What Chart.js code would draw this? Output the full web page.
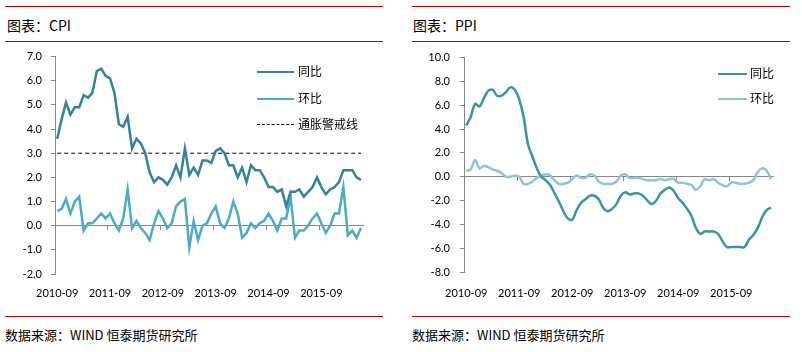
<!DOCTYPE html>
<html>
<head>
<meta charset="utf-8">
<script src="https://cdn.jsdelivr.net/npm/chart.js@4/dist/chart.umd.min.js"></script>
<style>
  body { margin: 0; width: 802px; height: 352px; background: #fff; position: relative; overflow: hidden;
         font-family: "Noto Sans CJK SC", sans-serif; color: #000; }
  .rule { position: absolute; height: 1px; background: #c00000; }
  .title { position: absolute; font-size: 14px; line-height: 16px; white-space: nowrap; }
  .src { position: absolute; font-size: 13px; line-height: 15px; white-space: nowrap; }
  .box { position: absolute; }
  .lg { position: absolute; font-size: 12px; line-height: 14px; white-space: nowrap; }
  .lg span { position: absolute; display: block; white-space: nowrap; }
</style>
</head>
<body>
<div class="rule" style="left:5px;top:6px;width:378px"></div>
<div class="rule" style="left:5px;top:41px;width:378px"></div>
<div class="rule" style="left:5px;top:316px;width:378px"></div>
<div class="rule" style="left:412px;top:6px;width:378px"></div>
<div class="rule" style="left:412px;top:41px;width:378px"></div>
<div class="rule" style="left:412px;top:316px;width:378px"></div>

<div class="title" style="left:7px;top:17px">图表：CPI</div>
<div class="title" style="left:413px;top:17px">图表：PPI</div>
<div class="src" style="left:5px;top:327px">数据来源：WIND 恒泰期货研究所</div>
<div class="src" style="left:412px;top:327px">数据来源：WIND 恒泰期货研究所</div>

<div class="box" style="left:0;top:41px;width:366px;height:265px"><canvas id="cpiChart"></canvas></div>
<div class="box" style="left:400px;top:41px;width:378px;height:265px"><canvas id="ppiChart"></canvas></div>

<!-- legends -->
<div class="lg" style="left:257px;top:64px">
  <span style="left:0;top:7px;width:37px;height:0;border-top:2.5px solid #31849b"></span>
  <span style="left:41px;top:0">同比</span>
</div>
<div class="lg" style="left:257px;top:91px">
  <span style="left:0;top:7px;width:37px;height:0;border-top:2.5px solid #4bacc6"></span>
  <span style="left:41px;top:0">环比</span>
</div>
<div class="lg" style="left:257px;top:117px">
  <span style="left:0;top:7px;width:37px;height:0;border-top:1px dashed #000"></span>
  <span style="left:41px;top:0">通胀警戒线</span>
</div>
<div class="lg" style="left:718px;top:66px">
  <span style="left:0;top:7px;width:29px;height:0;border-top:2.5px solid #3a93ab"></span>
  <span style="left:32px;top:0">同比</span>
</div>
<div class="lg" style="left:718px;top:91px">
  <span style="left:0;top:7px;width:29px;height:0;border-top:2.5px solid #8ec4d7"></span>
  <span style="left:32px;top:0">环比</span>
</div>

<script>
// months 2010-09 .. 2016-06
var months = [];
for (var y = 2010, m = 9; months.length < 70; m++) {
  if (m > 12) { m = 1; y++; }
  months.push(y + '-' + (m < 10 ? '0' + m : m));
}
var tickLabels = ['2010-09', '2011-09', '2012-09', '2013-09', '2014-09', '2015-09'];

var cpiYoy = [3.6,4.4,5.1,4.6,
  4.9,4.9,5.4,5.3,5.5,6.4,6.5,6.2,6.1,5.5,4.2,4.1,
  4.5,3.2,3.6,3.4,3.0,2.2,1.8,2.0,1.9,1.7,2.0,2.5,
  2.0,3.2,2.1,2.4,2.1,2.7,2.7,2.6,3.1,3.2,3.0,2.5,
  2.5,2.0,2.4,1.8,2.5,2.3,2.3,2.0,1.6,1.6,1.4,1.5,
  0.8,1.4,1.4,1.5,1.2,1.4,1.6,2.0,1.6,1.3,1.5,1.6,
  1.8,2.3,2.3,2.3,2.0,1.9];
var cpiMom = [0.6,0.7,1.1,0.5,
  1.0,1.2,-0.2,0.1,0.1,0.3,0.5,0.3,0.5,0.1,-0.2,0.3,
  1.5,-0.1,0.2,-0.1,-0.3,-0.6,0.1,0.6,0.3,-0.1,0.1,0.8,
  1.0,1.1,-0.9,0.2,-0.6,0.0,0.1,0.5,0.8,0.1,-0.1,0.3,
  1.0,0.5,-0.5,-0.3,0.1,-0.1,0.1,0.2,0.5,0.2,-0.2,0.3,
  0.3,1.2,-0.5,-0.2,-0.2,0.0,0.3,0.5,0.1,-0.3,0.0,0.5,
  0.5,1.6,-0.4,-0.2,-0.5,-0.1];
var cpiAlert = 3.0; // 通胀警戒线

var ppiYoy = [4.3,5.0,6.1,5.9,
  6.6,7.2,7.3,6.8,6.8,7.1,7.5,7.3,6.5,5.0,2.7,1.7,
  0.7,0.0,-0.3,-0.7,-1.4,-2.1,-2.9,-3.5,-3.6,-2.8,-2.2,-1.9,
  -1.6,-1.6,-1.9,-2.6,-2.9,-2.7,-2.3,-1.6,-1.3,-1.5,-1.4,-1.4,
  -1.6,-2.0,-2.3,-2.0,-1.4,-1.1,-0.9,-1.2,-1.8,-2.2,-2.7,-3.3,
  -4.3,-4.8,-4.6,-4.6,-4.6,-4.8,-5.4,-5.9,-5.9,-5.9,-5.9,-5.9,
  -5.3,-4.9,-4.3,-3.4,-2.8,-2.6];
var ppiMom = [0.5,0.6,1.4,0.7,
  0.9,0.8,0.6,0.5,0.3,0.0,0.0,0.1,0.0,-0.6,-0.6,-0.4,
  -0.1,0.1,0.2,0.1,-0.3,-0.6,-0.6,-0.5,-0.2,0.1,-0.1,-0.1,
  0.2,0.1,-0.4,-0.6,-0.6,-0.6,-0.4,0.1,0.2,-0.1,-0.1,-0.1,
  -0.2,-0.3,-0.3,-0.3,-0.2,-0.3,-0.2,-0.2,-0.5,-0.5,-0.6,-0.7,
  -1.1,-0.8,-0.2,-0.3,-0.2,-0.5,-0.7,-0.8,-0.5,-0.5,-0.6,-0.6,
  -0.5,-0.3,0.4,0.7,0.5,-0.2];

Chart.defaults.font.family = 'Lato, "Liberation Sans", sans-serif';
Chart.defaults.font.size = 11;
Chart.defaults.color = '#000';

function makeOptions(yMin, yMax, yStep, yWidth, xHeight, xPad, yPad) {
  return {
    responsive: true,
    maintainAspectRatio: false,
    animation: false,
    devicePixelRatio: 1,
    layout: { padding: { top: 10, right: 0, left: 0, bottom: 0 } },
    plugins: { legend: { display: false }, tooltip: { enabled: false } },
    elements: { point: { radius: 0 } },
    scales: {
      x: {
        type: 'category',
        position: 'bottom',
        offset: true,
        grid: { display: false },
        border: { display: false },
        ticks: {
          autoSkip: false, maxRotation: 0, padding: xPad,
          callback: function (v, i) { var l = this.getLabelForValue(v); return tickLabels.indexOf(l) >= 0 ? l : ''; }
        },
        afterFit: function (s) { s.height = xHeight; }
      },
      x2: {
        type: 'category',
        position: { y: 0 },
        offset: true,
        grid: {
          offset: true, drawOnChartArea: false, drawTicks: true, tickLength: 4, lineWidth: 1,
          color: function (c) { return c.index % 12 === 0 ? '#868686' : 'rgba(0,0,0,0)'; }
        },
        border: { display: true, color: '#868686', width: 1 },
        ticks: { display: false },
        afterFit: function (s) { s.height = 0; }
      },
      y: {
        min: yMin, max: yMax,
        grid: { drawOnChartArea: false, drawTicks: true, tickLength: 4, color: '#868686' },
        border: { display: true, color: '#868686', width: 1 },
        ticks: { stepSize: yStep, padding: yPad, callback: function (v) { return v.toFixed(1); } },
        afterFit: function (s) { s.width = yWidth; }
      }
    }
  };
}

new Chart(document.getElementById('cpiChart'), {
  type: 'line',
  data: {
    labels: months,
    datasets: [
      { label: '同比', data: cpiYoy, borderColor: '#31849b', borderWidth: 2.5, tension: 0, xAxisID: 'x' },
      { label: '环比', data: cpiMom, borderColor: '#4bacc6', borderWidth: 2.5, tension: 0, xAxisID: 'x' },
      { label: '通胀警戒线', data: months.map(function () { return cpiAlert; }), borderColor: '#000',
        borderWidth: 1, borderDash: [4, 3], tension: 0, xAxisID: 'x' }
    ]
  },
  options: makeOptions(-2, 7, 1, 55, 32, 5, 9)
});

new Chart(document.getElementById('ppiChart'), {
  type: 'line',
  data: {
    labels: months,
    datasets: [
      { label: '同比', data: ppiYoy, borderColor: '#3a93ab', borderWidth: 2.5, tension: 0.4, xAxisID: 'x' },
      { label: '环比', data: ppiMom, borderColor: '#8ec4d7', borderWidth: 2.5, tension: 0.4, xAxisID: 'x' }
    ]
  },
  options: makeOptions(-8, 10, 2, 64, 34, 7, 10)
});
</script>
</body>
</html>
